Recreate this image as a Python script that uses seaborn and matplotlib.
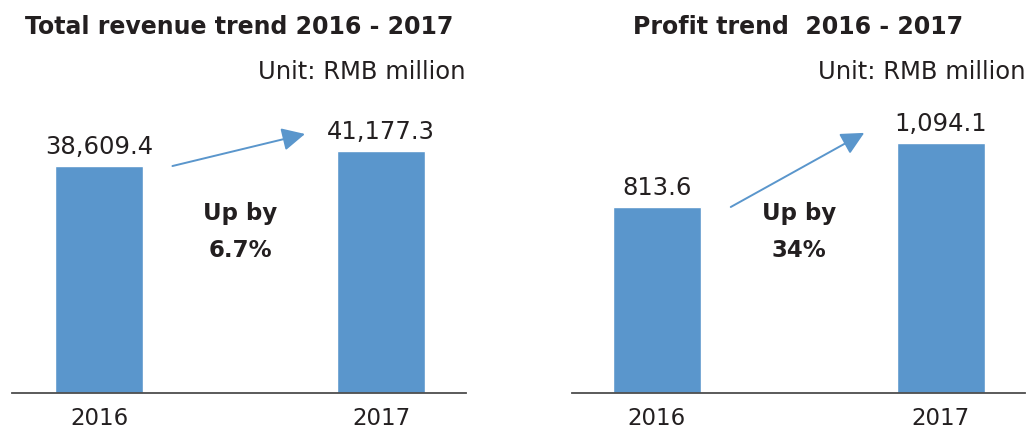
import numpy as np
import matplotlib
matplotlib.use("Agg")
import matplotlib.pyplot as plt
import seaborn as sns

# data
years = ["2016", "2017"]
revenue = [38609.4, 41177.3]
profit = [813.6, 1094.1]
revenue_labels = ["38,609.4", "41,177.3"]
profit_labels = ["813.6", "1,094.1"]
growth = ["Up by\n6.7%", "Up by\n34%"]
titles = ["Total revenue trend 2016 - 2017", "Profit trend  2016 - 2017"]
unit_text = "Unit: RMB million"

sns.set_theme(style="white")
plt.rcParams["font.family"] = ["DejaVu Sans"]

bar_color = "#5a96cc"
text_color = "#231f20"

fig = plt.figure(figsize=(10.27, 4.32), dpi=100)
W, H = 1027, 432
ax1 = fig.add_axes([12 / W, 39 / H, 454 / W, 293 / H])
ax2 = fig.add_axes([572 / W, 39 / H, 453 / W, 293 / H])

panels = [
    (ax1, revenue, revenue_labels, growth[0], titles[0], 49840, (-0.309, 1.301), 1.07),
    (ax2, profit, profit_labels, growth[1], titles[1], 1281.6, (-0.299, 1.296), 1.04),
]

for ax, vals, labels, up, title, ymax, xlim, head in panels:
    sns.barplot(x=years, y=vals, color=bar_color, width=0.31, saturation=1, ax=ax)
    ax.set_xlim(*xlim)
    ax.set_ylim(0, ymax)
    for i, (v, lab) in enumerate(zip(vals, labels)):
        ax.annotate(lab, (i, v), xytext=(0, 5), textcoords="offset points",
                    ha="center", va="bottom", fontsize=17.5, color=text_color)
    # growth arrow
    ax.annotate("", xy=(0.73, vals[1] * head), xytext=(0.26, vals[0]),
                arrowprops=dict(arrowstyle="-|>,head_length=1.0,head_width=0.5",
                                mutation_scale=14, color=bar_color, lw=1.4,
                                shrinkA=0, shrinkB=0))
    lines = up.split("\n")
    ax.text(0.5, 0.614, lines[0], transform=ax.get_xaxis_transform(),
            ha="center", va="center", fontsize=16.5, fontweight="bold", color=text_color)
    ax.text(0.5, 0.488, lines[1], transform=ax.get_xaxis_transform(),
            ha="center", va="center", fontsize=16.5, fontweight="bold", color=text_color)
    ax.text(0.5, 1.249, title, transform=ax.transAxes, ha="center", va="center",
            fontsize=17, fontweight="bold", color=text_color)
    ax.text(1.0, 1.096, unit_text, transform=ax.transAxes, ha="right", va="center",
            fontsize=17.5, color=text_color)

    ax.set_xlabel("")
    ax.set_ylabel("")
    ax.set_yticks([])
    ax.tick_params(axis="x", length=0, pad=10, labelsize=16.5, labelcolor=text_color)
    for s in ["top", "left", "right"]:
        ax.spines[s].set_visible(False)
    ax.spines["bottom"].set_color("#4d4d4d")
    ax.spines["bottom"].set_linewidth(1.3)

fig.savefig("out.png", dpi=100, facecolor="white")
